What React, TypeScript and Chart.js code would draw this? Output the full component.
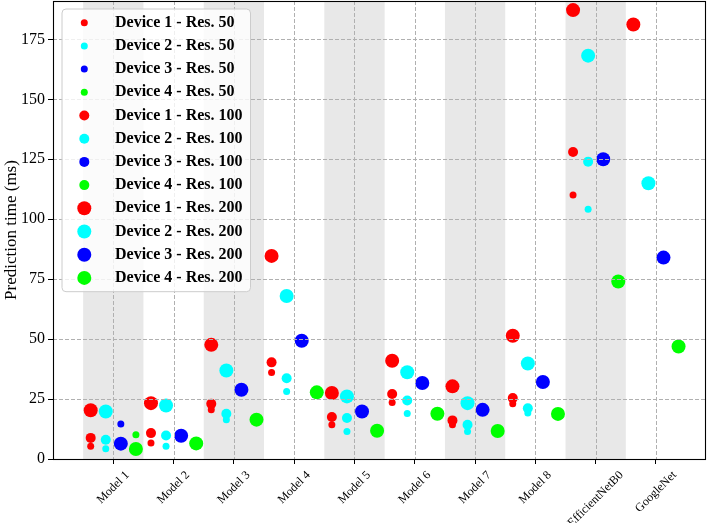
import React, { useEffect, useRef } from 'react';
import { Chart, registerables } from 'chart.js';

Chart.register(...registerables);

const models = ['Model 1', 'Model 2', 'Model 3', 'Model 4', 'Model 5', 'Model 6', 'Model 7', 'Model 8', 'EfficientNetB0', 'GoogleNet'];
const devices = ['Device 1', 'Device 2', 'Device 3', 'Device 4'];
const resolutions = ['50', '100', '200'];
const yTicks = [0, 25, 50, 75, 100, 125, 150, 175];

// Prediction time (ms) per model
const device1Res50 = [5.3, 6.7, 20.5, 36.1, 14.3, 23.6, 14.3, 23.0, 110.1, null];
const device2Res50 = [4.3, 5.3, 16.4, 28.2, 11.5, 19.0, 11.5, 19.2, 104.2, null];
const device3Res50 = [14.6, null, null, null, null, null, null, null, null, null];
const device4Res50 = [10.1, null, null, null, null, null, null, null, null, null];

const device1Res100 = [8.8, 10.8, 23.0, 40.3, 17.5, 27.1, 16.1, 25.4, 128.0, null];
const device2Res100 = [8.0, 9.8, 18.9, 33.7, 17.1, 24.4, 14.3, 21.2, 124.0, null];
const device3Res100 = [null, null, null, null, null, null, null, null, null, null];
const device4Res100 = [null, null, null, null, null, null, null, null, null, null];

const device1Res200 = [20.3, 23.3, 47.6, 84.7, 27.5, 41.0, 30.3, 51.4, 187.2, 181.2];
const device2Res200 = [19.8, 22.3, 36.9, 68.0, 26.1, 36.2, 23.3, 39.8, 168.2, 115.0];
const device3Res200 = [6.4, 9.7, 28.9, 49.3, 19.8, 31.7, 20.5, 32.1, 125.0, 84.0];
const device4Res200 = [4.2, 6.5, 16.4, 27.8, 11.8, 18.9, 11.7, 18.8, 74.0, 46.9];

const seriesByRes = [
  [device1Res50, device2Res50, device3Res50, device4Res50],
  [device1Res100, device2Res100, device3Res100, device4Res100],
  [device1Res200, device2Res200, device3Res200, device4Res200],
];

// styles
const deviceColors = ['#ff0000', '#00ffff', '#0000ff', '#00ff00'];
const resRadius = [3.5, 5, 7];
const deviceOffsets = [-0.375, -0.125, 0.125, 0.375];
const FONT = '"Liberation Serif", "Times New Roman", serif';
const XLABEL_SIZE = 12;

const overlayPlugin = {
  id: 'overlay',
  beforeDatasetsDraw(chart: any) {
    const { ctx, chartArea: a, scales } = chart;
    const x = scales.x;
    ctx.save();
    ctx.fillStyle = '#e8e8e8';
    models.forEach((_, i) => {
      if (i % 2 === 0) {
        const l = x.getPixelForValue(i + 0.5);
        const r = x.getPixelForValue(i + 1.5);
        ctx.fillRect(l, a.top, r - l, a.bottom - a.top);
      }
    });
    ctx.restore();
  },
  afterDatasetsDraw(chart: any) {
    const { ctx, chartArea: a, scales } = chart;
    const x = scales.x;
    const y = scales.y;
    ctx.save();
    ctx.strokeStyle = '#b0b0b0';
    ctx.lineWidth = 1;
    ctx.setLineDash([4, 2]);
    x.ticks.forEach((t: any) => {
      const px = Math.round(x.getPixelForValue(t.value)) + 0.5;
      ctx.beginPath();
      ctx.moveTo(px, a.top);
      ctx.lineTo(px, a.bottom);
      ctx.stroke();
    });
    y.ticks.forEach((t: any) => {
      const py = Math.round(y.getPixelForValue(t.value)) + 0.5;
      ctx.beginPath();
      ctx.moveTo(a.left, py);
      ctx.lineTo(a.right, py);
      ctx.stroke();
    });
    ctx.setLineDash([]);
    ctx.strokeStyle = '#000';
    ctx.lineWidth = 1.1;
    ctx.strokeRect(a.left + 0.5, a.top + 0.5, a.right - a.left - 1, a.bottom - a.top);
    ctx.restore();
  },
  afterDraw(chart: any) {
    const { ctx, chartArea: a, scales } = chart;
    const x = scales.x;
    ctx.save();
    // x tick labels, rotated 45 deg, bbox centred on tick
    ctx.fillStyle = '#000';
    ctx.font = `${XLABEL_SIZE}px ${FONT}`;
    ctx.textAlign = 'center';
    ctx.textBaseline = 'middle';
    models.forEach((label, i) => {
      const px = x.getPixelForValue(i + 1);
      const w = ctx.measureText(label).width;
      const h = XLABEL_SIZE;
      const bh = (w + h) * Math.SQRT1_2;
      const cy = a.bottom + 10 + bh / 2;
      ctx.save();
      ctx.translate(px, cy);
      ctx.rotate(-Math.PI / 4);
      ctx.fillText(label, 0, 0);
      ctx.restore();
    });

    // legend
    const lx = 62, ly = 9, lw = 188.5, lh = 282.7, rad = 4;
    ctx.beginPath();
    ctx.moveTo(lx + rad, ly);
    ctx.lineTo(lx + lw - rad, ly);
    ctx.quadraticCurveTo(lx + lw, ly, lx + lw, ly + rad);
    ctx.lineTo(lx + lw, ly + lh - rad);
    ctx.quadraticCurveTo(lx + lw, ly + lh, lx + lw - rad, ly + lh);
    ctx.lineTo(lx + rad, ly + lh);
    ctx.quadraticCurveTo(lx, ly + lh, lx, ly + lh - rad);
    ctx.lineTo(lx, ly + rad);
    ctx.quadraticCurveTo(lx, ly, lx + rad, ly);
    ctx.closePath();
    ctx.fillStyle = 'rgba(255,255,255,0.8)';
    ctx.fill();
    ctx.strokeStyle = '#cccccc';
    ctx.lineWidth = 1;
    ctx.stroke();

    ctx.font = `bold 16px ${FONT}`;
    ctx.textAlign = 'left';
    ctx.textBaseline = 'middle';
    chart.data.datasets.forEach((ds: any, k: number) => {
      const ry = 22.7 + 23.2 * k;
      ctx.beginPath();
      ctx.fillStyle = ds.backgroundColor;
      ctx.arc(84.3, ry, ds.pointRadius, 0, Math.PI * 2);
      ctx.fill();
      ctx.fillStyle = '#000';
      ctx.fillText(ds.label, 115, ry);
    });
    ctx.restore();
  },
};

export default function App() {
  const canvasRef = useRef<HTMLCanvasElement | null>(null);

  useEffect(() => {
    const canvas = canvasRef.current;
    if (!canvas) return;
    const datasets: any[] = [];
    seriesByRes.forEach((devSeries, r) => {
      devSeries.forEach((values, d) => {
        const pts: any[] = [];
        values.forEach((v, i) => {
          if (v !== null && v !== undefined) pts.push({ x: i + 1 + deviceOffsets[d], y: v });
        });
        datasets.push({
          label: `${devices[d]} - Res. ${resolutions[r]}`,
          data: pts,
          backgroundColor: deviceColors[d],
          borderWidth: 0,
          pointRadius: resRadius[r],
          pointHoverRadius: resRadius[r],
          pointBorderWidth: 0,
          order: 2 - r,
        });
      });
    });

    const tickGrid = {
      drawOnChartArea: false,
      drawTicks: true,
      tickLength: 5,
      tickColor: '#000',
      tickWidth: 1,
    };

    const chart = new Chart(canvas, {
      type: 'scatter',
      data: { datasets },
      options: {
        animation: false,
        responsive: false,
        devicePixelRatio: 1,
        events: [],
        layout: { autoPadding: false, padding: { left: 0, top: 1, right: 3, bottom: 0 } },
        plugins: { legend: { display: false }, tooltip: { enabled: false } },
        scales: {
          x: {
            type: 'linear',
            min: 0,
            max: 10.83,
            afterBuildTicks: (s: any) => {
              s.ticks = models.map((_, i) => ({ value: i + 1 }));
            },
            afterFit: (s: any) => {
              s.height = 64;
              s.paddingLeft = 0;
              s.paddingRight = 0;
            },
            grid: tickGrid,
            border: { display: false },
            ticks: { display: false },
          },
          y: {
            type: 'linear',
            min: 0,
            max: 191,
            afterBuildTicks: (s: any) => {
              s.ticks = yTicks.map((v) => ({ value: v }));
            },
            afterFit: (s: any) => {
              s.width = 53;
              s.paddingTop = 0;
              s.paddingBottom = 0;
            },
            grid: tickGrid,
            border: { display: false },
            ticks: {
              color: '#000',
              font: { family: FONT, size: 16 },
              padding: 3,
            },
            title: {
              display: true,
              text: 'Prediction time (ms)',
              color: '#000',
              font: { family: FONT, size: 17, lineHeight: 1 },
              padding: { top: 3, bottom: 0 },
            },
          },
        },
      } as any,
      plugins: [overlayPlugin],
    });
    return () => chart.destroy();
  }, []);

  return (
    <div style={{ position: 'fixed', left: 0, top: 0, width: 709, height: 523, background: '#fff' }}>
      <canvas ref={canvasRef} width={709} height={523} style={{ display: 'block' }} />
    </div>
  );
}
